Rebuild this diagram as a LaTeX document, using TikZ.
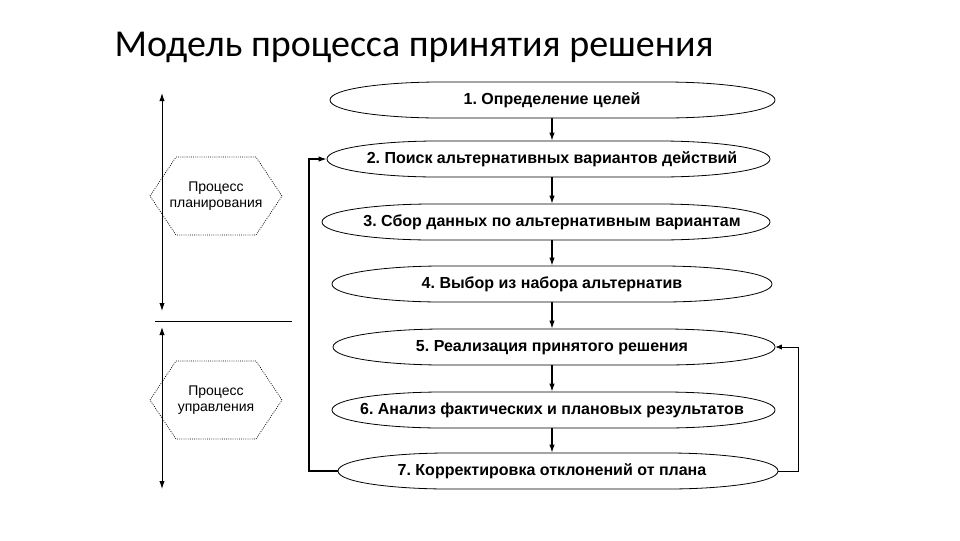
\documentclass[tikz,border=0pt]{standalone}
\usepackage{fontspec}
\setmainfont{Liberation Sans}
\newfontfamily\titlefont{Carlito}
\usetikzlibrary{arrows.meta}
\frenchspacing
\begin{document}
\begin{tikzpicture}[x=0.75pt,y=-0.75pt,
  stg/.style={inner sep=0pt,font=\bfseries\fontsize{12}{14}\selectfont},
  arr/.style={-{Latex[length=6pt,width=4pt]},line width=0.9pt},
  thinarr/.style={-{Latex[length=5pt,width=4pt]},line width=0.6pt},
  hex/.style={font=\fontsize{10.5}{12.5}\selectfont,align=center}]
\useasboundingbox (0,0) rectangle (960,540);
\node[anchor=west,font=\titlefont\fontsize{28.5}{32}\selectfont] (title) at (110,47) {Модель процесса принятия решения};
\newcommand\stageoval[5]{% name, x1, x2, yc, text
  \draw[line width=0.6pt] (#2,#4) .. controls (#2,#4-12) and (#2+60,#4-18) .. (#2+110,#4-18) -- (#3-110,#4-18)
     .. controls (#3-60,#4-18) and (#3,#4-12) .. (#3,#4) .. controls (#3,#4+12) and (#3-60,#4+18) .. (#3-110,#4+18)
     -- (#2+110,#4+18) .. controls (#2+60,#4+18) and (#2,#4+12) .. (#2,#4) -- cycle;
  \node[stg,minimum width={(#3-#2)*0.75},minimum height=27pt] (#1) at ({(#2+#3)/2},#4) {};
  \node[stg] (#1t) at (552,#4+0.5) {#5};}
\stageoval{s1}{330}{775}{100}{1. Определение целей}
\stageoval{s2}{327}{770}{159}{2. Поиск альтернативных вариантов действий}
\stageoval{s3}{322}{770}{222}{3. Сбор данных по альтернативным вариантам}
\stageoval{s4}{332}{772}{284}{4. Выбор из набора альтернатив}
\stageoval{s5}{333}{775}{347}{5. Реализация принятого решения}
\stageoval{s6}{332}{775}{410}{6. Анализ фактических и плановых результатов}
\stageoval{s7}{338}{778}{471}{7. Корректировка отклонений от плана}
\foreach \a/\b in {1/2,2/3,3/4,4/5,5/6,6/7}
  \draw[arr] (552,0 |- s\a.south) -- (552,0 |- s\b.north);
\draw[arr] (s7.west) -- (309,471) -- (309,159) -- (s2.west);
\draw[thinarr] (s7.east) -- (798,471) -- (798,347) -- (s5.east);
% hexagons
\foreach \n/\y/\t in {h1/196/{Процесс\\планирования},h2/400/{Процесс\\управления}}{
  \draw[densely dotted,line width=0.6pt] (150,\y) -- (176,\y-39) -- (256,\y-39) -- (282,\y) -- (256,\y+39) -- (176,\y+39) -- cycle;
  \node[hex] (\n) at (216,\y) {\t};}
\coordinate (a1) at (162,93); \coordinate (a2) at (162,311);
\coordinate (a3) at (162,327); \coordinate (a4) at (162,489);
\draw[{Latex[length=6pt,width=4pt]}-{Latex[length=6pt,width=4pt]},line width=0.7pt] (a1) -- (a2);
\draw[{Latex[length=6pt,width=4pt]}-{Latex[length=6pt,width=4pt]},line width=0.7pt] (a3) -- (a4);
\coordinate (l1) at (155,321); \coordinate (l2) at (292,321);
\draw[line width=0.6pt] (l1) -- (l2);
\end{tikzpicture}
\end{document}
